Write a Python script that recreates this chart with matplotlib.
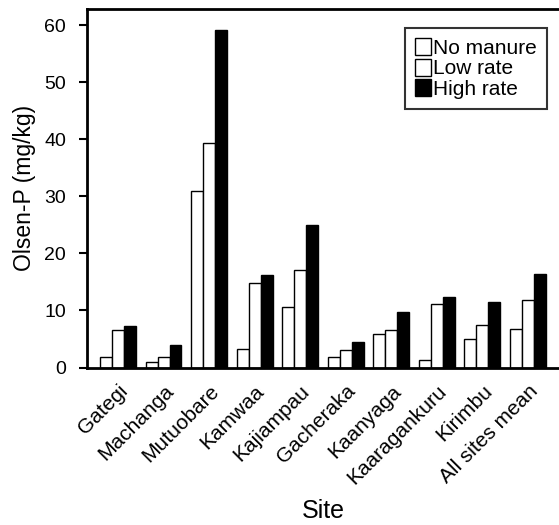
import matplotlib
matplotlib.use("Agg")
import matplotlib.pyplot as plt
import numpy as np

plt.rcParams['font.family'] = ['Liberation Sans', 'DejaVu Sans']

sites = ["Gategi", "Machanga", "Mutuobare", "Kamwaa", "Kajiampau", "Gacheraka",
         "Kaanyaga", "Kaaragankuru", "Kirimbu", "All sites mean"]
no_manure = [1.8, 0.9, 31.0, 3.2, 10.6, 1.8, 5.9, 1.4, 5.0, 6.7]
low_rate = [6.5, 1.9, 39.3, 14.8, 17.1, 3.0, 6.6, 11.2, 7.4, 11.8]
high_rate = [7.2, 3.9, 59.2, 16.2, 25.0, 4.4, 9.7, 12.3, 11.5, 16.4]
series_names = ["No manure", "Low rate", "High rate"]
yticks = [0, 10, 20, 30, 40, 50, 60]

fig = plt.figure(figsize=(5.59, 5.25), dpi=100)
ax = fig.add_axes([0.1556, 0.30, 0.8444, 0.683])

x = np.arange(len(sites))
w = 0.263
ax.bar(x - w, no_manure, w, color="white", edgecolor="black", linewidth=1.0, label=series_names[0])
ax.bar(x, low_rate, w, color="white", edgecolor="black", linewidth=1.0, label=series_names[1])
ax.bar(x + w, high_rate, w, color="black", edgecolor="black", linewidth=1.0, label=series_names[2])

ax.set_xlim(-0.68, 9.68)
ax.set_ylim(0, 62.9)
ax.set_yticks(yticks)
ax.set_yticklabels([str(v) for v in yticks], fontsize=14)
ax.set_xticks(x)
ax.set_xticklabels(sites, rotation=45, ha="right", rotation_mode="anchor", fontsize=15)
ax.tick_params(axis="x", length=0, pad=10)
ax.tick_params(axis="y", direction="out", length=6, width=1.5, pad=9)

for s in ["left", "bottom", "top"]:
    ax.spines[s].set_linewidth(2)
ax.spines["right"].set_visible(False)

ax.set_ylabel("Olsen-P (mg/kg)", fontsize=16.5, labelpad=6)
ax.set_xlabel("Site", fontsize=18, labelpad=8)

leg = ax.legend(loc="upper right", bbox_to_anchor=(0.975, 0.947), fontsize=15,
                frameon=True, fancybox=False, handlelength=0.75, handleheight=0.85,
                handletextpad=0.1, labelspacing=0.05, borderpad=0.5, borderaxespad=0)
leg.get_frame().set_edgecolor("black")
leg.get_frame().set_linewidth(1.5)

fig.savefig("out.png", dpi=100)
